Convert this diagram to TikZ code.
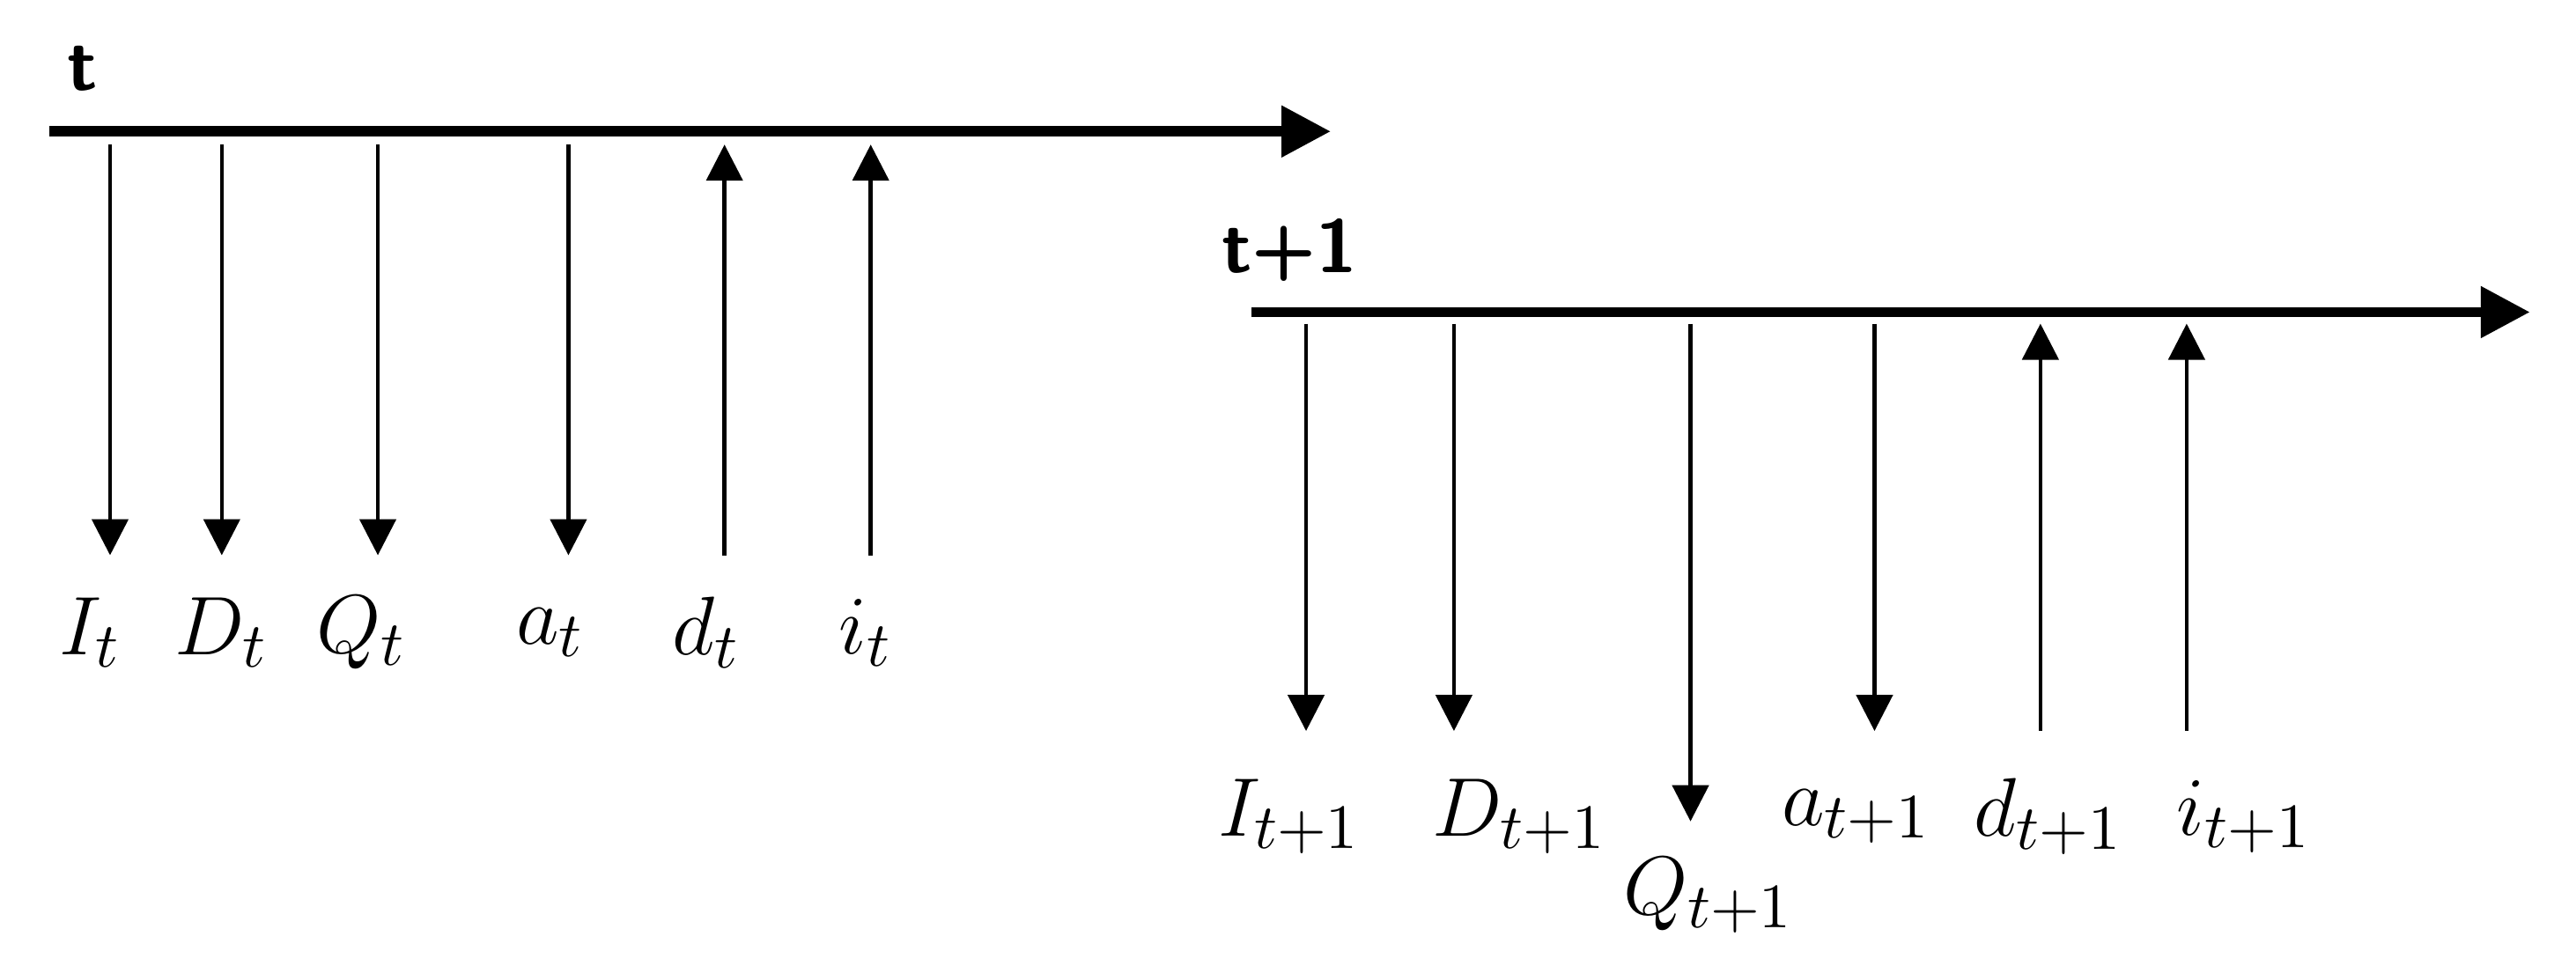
\documentclass[tikz,border=0pt]{standalone}
\usetikzlibrary{arrows.meta}
\begin{document}
\begin{tikzpicture}[x=0.1cm,y=-0.1cm,
  axis/.style={line width=1.8pt,-{Triangle[width=3mm,length=3mm]}},
  ev/.style={line width=0.7pt,-{Triangle[width=2.2mm,length=2.2mm]}},
  lab/.style={font=\fontsize{15}{18}\selectfont},
  ttl/.style={font=\fontsize{13}{15}\selectfont\sffamily\bfseries}]
\useasboundingbox (0,0) rectangle (156.8,58.8);
% first timeline
\coordinate (a0) at (3,8); \coordinate (a1) at (81,8);
\draw[axis] (a0) -- (a1);
\node[ttl] (tt) at (5,4.2) {t};
\foreach \n/\x/\d in {I/6.7/1,D/13.5/1,Q/23/1,a/34.6/1,d/44.1/0,i/53/0}{
  \coordinate (t\n) at (\x,8.8); \coordinate (b\n) at (\x,33.8);
  \ifnum\d=1 \draw[ev] (t\n) -- (b\n); \else \draw[ev] (b\n) -- (t\n); \fi
}
\node[lab] (lI) at (5.5,38.5) {$I_t$};
\node[lab] (lD) at (13.5,38.5) {$D_t$};
\node[lab] (lQ) at (22,38.5) {$Q_t$};
\node[lab] (la) at (33.5,38.5) {$a_t$};
\node[lab] (ld) at (43,38.5) {$d_t$};
\node[lab] (li) at (52.7,38.5) {$i_t$};
% second timeline
\coordinate (c0) at (76.2,19); \coordinate (c1) at (154,19);
\draw[axis] (c0) -- (c1);
\node[ttl] (tt1) at (78.5,15.2) {t+1};
\foreach \n/\x/\y/\d in {I/79.5/44.5/1,D/88.5/44.5/1,Q/102.9/50/1,a/114.1/44.5/1,d/124.2/44.5/0,i/133.1/44.5/0}{
  \coordinate (u\n) at (\x,19.7); \coordinate (v\n) at (\x,\y);
  \ifnum\d=1 \draw[ev] (u\n) -- (v\n); \else \draw[ev] (v\n) -- (u\n); \fi
}
\node[lab] (mI) at (78.5,49.7) {$I_{t+1}$};
\node[lab] (mD) at (92.5,49.7) {$D_{t+1}$};
\node[lab] (mQ) at (104,54.5) {$Q_{t+1}$};
\node[lab] (ma) at (113,49.7) {$a_{t+1}$};
\node[lab] (md) at (124.7,49.7) {$d_{t+1}$};
\node[lab] (mi) at (136.6,49.7) {$i_{t+1}$};
\end{tikzpicture}
\end{document}
